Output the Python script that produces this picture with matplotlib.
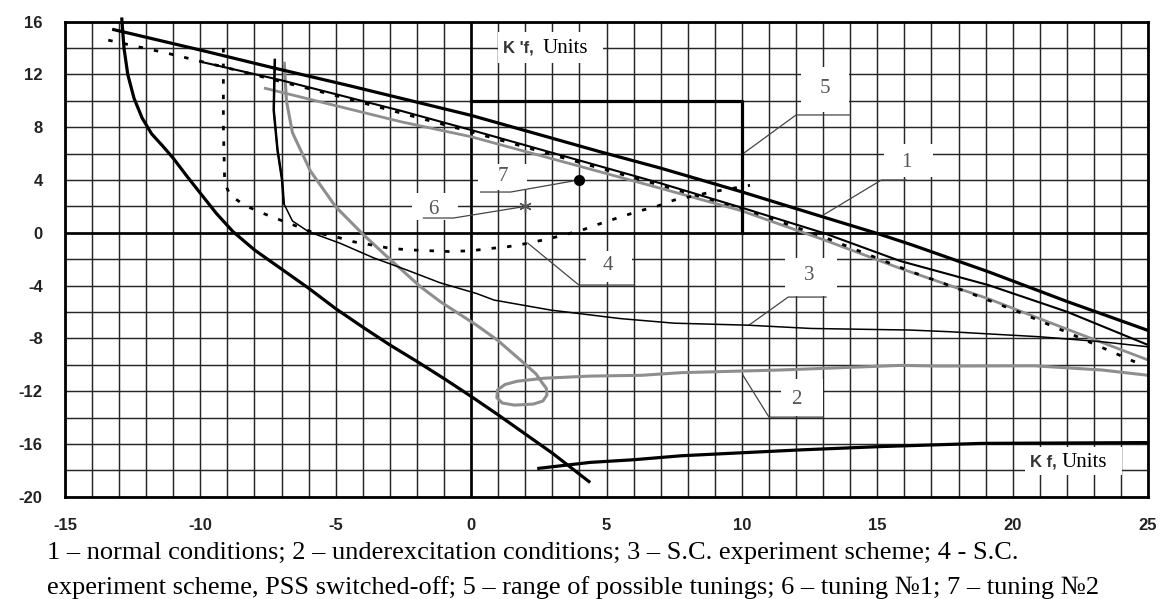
import numpy as np
import matplotlib.pyplot as plt
from matplotlib.patches import Rectangle

plt.rcParams['axes.unicode_minus'] = False

# curve 1 - normal conditions (upper branch)
c1_up_x = [-13.2, -10.0, -7.3, -4.5, -2.6, 0.0, 4.75, 7.0, 10.0, 13.0, 15.0, 16.3, 19.1, 22.0, 25.0]
c1_up_y = [15.4, 13.85, 12.5, 11.15, 10.2, 8.9, 6.15, 4.9, 3.1, 1.2, -0.05, -0.93, -2.95, -5.2, -7.4]
# curve 1 - left branch
c1_left_x = [-12.9, -12.82, -12.68, -12.45, -12.15, -11.8, -11.4, -11.0, -10.5, -10.0, -9.4, -8.8, -8.0,
             -7.0, -6.0, -5.0, -4.0, -3.0, -2.0, -1.0, 0.0, 1.0, 2.0, 3.0, 4.35]
c1_left_y = [16.2, 14.0, 12.0, 10.2, 8.7, 7.5, 6.6, 5.65, 4.3, 3.0, 1.45, 0.1, -1.3,
             -2.75, -4.2, -5.75, -7.15, -8.5, -9.75, -11.05, -12.4, -13.8, -15.25, -16.7, -18.85]
# bottom branch
c1_low_x = [2.5, 4.4, 6.0, 7.75, 9.7, 12.2, 15.15, 18.85, 25.0]
c1_low_y = [-17.85, -17.4, -17.2, -16.9, -16.7, -16.45, -16.2, -15.96, -15.9]

# curve 2 - underexcitation conditions (grey)
c2_band_x = [-7.6, -2.6, 0.0, 7.0, 9.97, 13.05, 15.85, 19.1, 22.0, 25.0]
c2_band_y = [10.95, 8.42, 7.28, 3.37, 1.68, -0.55, -2.7, -5.0, -7.3, -9.64]
c2_x = [-6.9, -6.82, -6.6, -5.94, -5.0, -4.0, -3.1, -1.87, -1.13, 0.2, 0.97, 2.02, 2.4, 2.6, 2.78,
        2.8, 2.65, 2.3, 1.6, 1.15, 0.95, 0.98, 1.25, 1.7, 2.7, 4.4, 6.3, 7.75, 11.4, 15.85, 17.3,
        20.8, 23.3, 25.0]
c2_y = [12.85, 10.0, 7.6, 4.7, 1.97, -0.1, -1.82, -4.09, -5.23, -7.0, -8.13, -10.0, -10.7, -11.3, -11.8,
        -12.3, -12.75, -12.98, -13.06, -12.9, -12.5, -11.9, -11.5, -11.25, -11.02, -10.86, -10.8, -10.6,
        -10.4, -10.05, -10.1, -10.08, -10.4, -10.8]

# curve 3 - S.C. experiment scheme (thin black)
c3_band_x = [-10.0, -7.05, -2.6, 0.0, 4.75, 7.0, 10.0, 13.05, 15.85, 19.1, 22.0, 25.0]
c3_band_y = [12.97, 11.58, 9.25, 7.79, 5.05, 3.75, 1.9, -0.04, -2.14, -3.96, -5.98, -8.5]
c3_x = [-7.25, -7.29, -7.15, -6.98, -6.92, -6.6, -6.0, -4.83, -3.6, -2.4, -1.13, 0.2, 0.85, 2.95,
        5.5, 7.5, 10.2, 12.55, 16.2, 17.7, 21.0, 23.3, 25.0]
c3_y = [13.1, 9.3, 6.27, 4.0, 2.23, 0.9, 0.08, -0.8, -1.9, -2.8, -3.8, -4.6, -5.1, -5.86,
        -6.5, -6.85, -7.0, -7.25, -7.37, -7.5, -7.88, -8.26, -8.64]

# curve 4 - S.C. experiment scheme, PSS switched-off (dashed)
c4_band_x = [-13.4, -11.2, -9.2, -5.0, 0.0, 7.0, 10.0, 13.0, 16.26, 18.3, 20.2, 22.1, 24.7]
c4_band_y = [14.6, 13.6, 12.6, 10.4, 7.65, 3.6, 1.85, -0.3, -2.95, -4.47, -5.98, -7.62, -9.95]
c4_x = [-9.15, -9.15, -9.1, -8.9, -8.38, -7.72, -7.05, -5.9, -5.0, -4.34, -3.66, -2.98, -2.24, -1.5,
        -0.8, 0.0, 0.66, 1.34, 2.08, 2.76, 3.43, 4.17, 4.79, 5.47, 6.21, 6.89, 7.5, 8.9, 10.3]
c4_y = [14.0, 8.0, 3.75, 2.86, 2.1, 1.5, 0.97, 0.08, -0.3, -0.68, -0.93, -1.18, -1.3, -1.36,
        -1.42, -1.36, -1.2, -1.06, -0.8, -0.5, -0.17, 0.26, 0.71, 1.17, 1.65, 2.03, 2.48, 3.1, 3.6]

# 5 - range of possible tunings
range_x = [0, 10, 10]
range_y = [10, 10, 0]
# 6, 7 - tunings
tune1 = (2, 2)
tune2 = (4, 4)

x_ticks = [-15, -10, -5, 0, 5, 10, 15, 20, 25]
y_ticks = [-20, -16, -12, -8, -4, 0, 4, 8, 12, 16]

caption = ["1 \u2013 normal conditions; 2 \u2013 underexcitation conditions; 3 \u2013 S.C. experiment scheme; 4 - S.C.",
           "experiment scheme, PSS switched-off; 5 \u2013 range of possible tunings; 6 \u2013 tuning \u21161; 7 \u2013 tuning \u21162"]

# number labels: text, position, white box (x0, x1, y0, y1), leader polyline
labels = [
    ("1", (16.07, 5.3), (15.25, 17.05, 4.2, 6.75), [(16.07, 4.0), (15.15, 4.0), (13.0, 1.34)]),
    ("2", (12.0, -12.6), (11.45, 13.0, -13.85, -11.1), [(13.0, -13.97), (11.0, -13.97), (10.04, -10.8)]),
    ("3", (12.5, -3.2), (11.6, 13.5, -4.8, -1.9), [(13.11, -4.87), (11.71, -4.87), (10.26, -7.0)]),
    ("4", (5.05, -2.45), (4.25, 5.95, -3.75, -1.35), [(6.01, -3.96), (3.98, -3.96), (2.09, -0.78)]),
    ("5", (13.08, 10.9), (12.2, 13.95, 9.15, 12.6), [(14.0, 8.93), (12.0, 8.93), (10.08, 6.05)]),
    ("6", (-1.39, 1.8), (-2.2, -0.5, 1.0, 3.0), [(-1.76, 1.12), (-0.65, 1.12), (1.85, 1.95)]),
    ("7", (1.17, 4.25), (0.25, 2.05, 3.25, 5.25), [(0.35, 3.09), (1.46, 3.09), (3.75, 3.92)]),
]

fig = plt.figure(figsize=(11.62, 5.99), dpi=100)
ax = fig.add_axes([0.0559, 0.1708, 0.9321, 0.793])
ax.set_xlim(-15, 25)
ax.set_ylim(-20, 16)

# grid
for gx in range(-15, 26):
    ax.axvline(gx, color='#262626', lw=1.05, zorder=0.5)
for gy in range(-20, 17, 2):
    ax.axhline(gy, color='#262626', lw=1.05, zorder=0.5)
ax.axvline(0, color='black', lw=1.9, zorder=1.5)
ax.axhline(0, color='black', lw=1.9, zorder=1.5)

# white label boxes
for _, _, box, _ in labels:
    ax.add_patch(Rectangle((box[0], box[2]), box[1] - box[0], box[3] - box[2],
                           facecolor='white', edgecolor='none', zorder=1.2))
ax.add_patch(Rectangle((0.98, 12.9), 3.9, 2.3, facecolor='white', edgecolor='none', zorder=1.2))
ax.add_patch(Rectangle((20.44, -18.35), 3.6, 2.1, facecolor='white', edgecolor='none', zorder=1.2))

grey = '#8e8e8e'
ax.plot(c1_up_x, c1_up_y, color='black', lw=2.3, zorder=4)
ax.plot(c1_left_x, c1_left_y, color='black', lw=2.3, zorder=4, clip_on=False)
ax.plot(c1_low_x, c1_low_y, color='black', lw=2.3, zorder=4)
ax.plot(c2_band_x, c2_band_y, color=grey, lw=2.0, zorder=3)
ax.plot(c2_x, c2_y, color=grey, lw=2.2, zorder=3)
ax.plot(c3_band_x, c3_band_y, color='black', lw=1.5, zorder=4)
ax.plot(c3_x, c3_y, color='black', lw=1.1, zorder=4)
ax.plot(c3_x[:5], c3_y[:5], color='black', lw=1.8, zorder=4)
ax.plot(c4_band_x, c4_band_y, color='black', lw=2.0, ls=(0, (1.6, 4.0)), zorder=4)
ax.plot(c4_x, c4_y, color='black', lw=2.0, ls=(0, (1.6, 4.0)), zorder=4)
ax.plot(range_x, range_y, color='black', lw=2.3, zorder=4)
ax.plot(*tune1, marker=(6, 2, 0), ms=9, mew=1.0, color='#555555', zorder=5)
ax.plot(*tune2, marker='o', ms=7, color='black', zorder=5)

for text, pos, _, leader in labels:
    lx, ly = zip(*leader)
    ax.plot(lx, ly, color='#444444', lw=0.9, zorder=3.5)
    ax.text(pos[0], pos[1], text, family='Liberation Serif', fontsize=15, color='#555555',
            ha='center', va='center', zorder=5)

ax.text(1.19, 14.0, "K 'f,", family='Liberation Sans', fontweight='bold', fontsize=12,
        color='#333333', va='center', zorder=5)
ax.text(2.62, 14.0, "Units", family='Liberation Serif', fontsize=15, va='center', zorder=5)
ax.text(20.63, -17.38, "K f,", family='Liberation Sans', fontweight='bold', fontsize=12,
        color='#333333', va='center', zorder=5)
ax.text(21.8, -17.38, "Units", family='Liberation Serif', fontsize=15, va='center', zorder=5)

ax.set_xticks(x_ticks)
ax.set_yticks(y_ticks)
ax.tick_params(axis='x', length=0, pad=15)
ax.tick_params(axis='y', length=0, pad=16)
for lab in ax.get_xticklabels() + ax.get_yticklabels():
    lab.set_family('Liberation Sans')
    lab.set_fontweight('bold')
    lab.set_fontsize(12)
    lab.set_color('#222222')
for s in ax.spines.values():
    s.set_linewidth(2.0)
    s.set_zorder(6)

fig.text(0.0404, 0.0768, caption[0], family='Liberation Serif', fontsize=19, va='center')
fig.text(0.0404, 0.020, caption[1], family='Liberation Serif', fontsize=19, va='center')

fig.savefig('out.png', dpi=100)
